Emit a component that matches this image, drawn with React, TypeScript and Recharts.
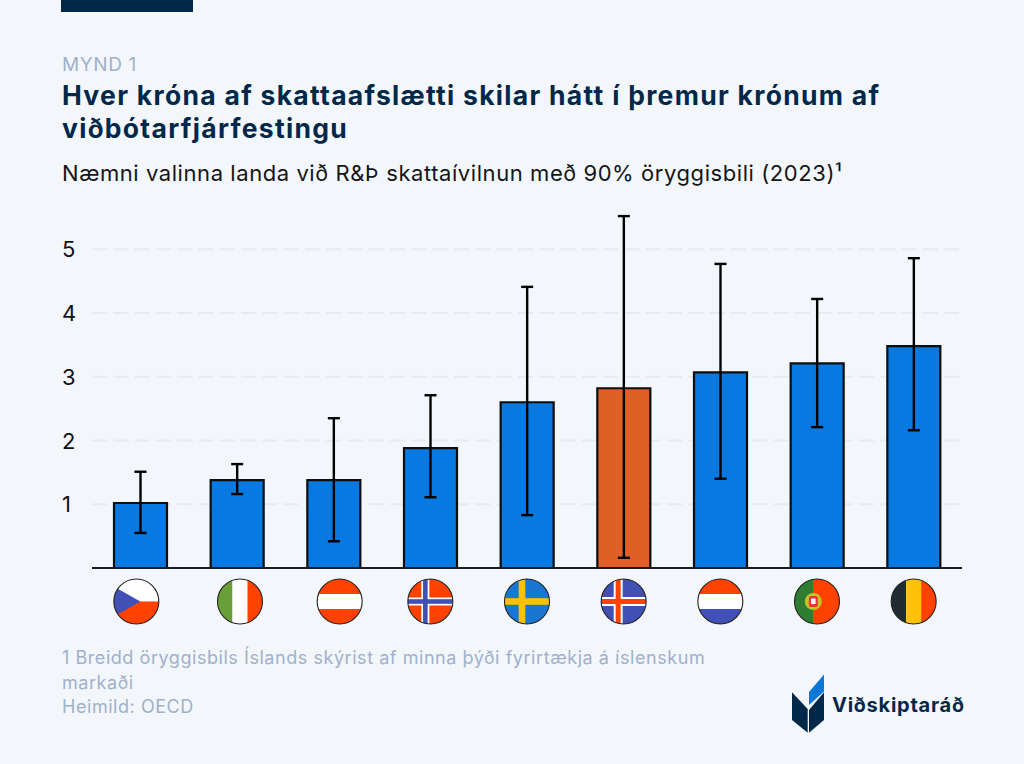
import { BarChart, Bar, Cell, CartesianGrid, ErrorBar, XAxis, YAxis } from 'recharts';

const FONT = 'Inter, "Noto Sans", sans-serif';
const NAVY = '#022849';
const MUTED = '#9fb1ca';

const countries = ['CZ', 'IT', 'AT', 'NO', 'SE', 'IS', 'NL', 'PT', 'BE'];
const values = [1.02, 1.38, 1.38, 1.88, 2.6, 2.82, 3.07, 3.21, 3.48];
const lowValues = [0.55, 1.16, 0.42, 1.11, 0.83, 0.16, 1.4, 2.21, 2.16];
const highValues = [1.51, 1.63, 2.35, 2.71, 4.41, 5.52, 4.77, 4.22, 4.86];
const yTicks = [1, 2, 3, 4, 5];
const barColors = ['#0779e0', '#0779e0', '#0779e0', '#0779e0', '#0779e0', '#e05f27', '#0779e0', '#0779e0', '#0779e0'];

const rows = countries.map((country, i) => ({
  country,
  value: values[i],
  error: [values[i] - lowValues[i], highValues[i] - values[i]],
}));

const RED = '#ff4200';
const BLUE = '#4050b5';
const R = 22.5;
// the flags in the original don't sit exactly under their bars
const flagNudge: Record<string, number> = { CZ: -4, IT: 3, AT: 6 };

function FlagArt({ code }: { code: string }) {
  const rect = (x: number, y: number, w: number, h: number, fill: string) => (
    <rect x={x} y={y} width={w} height={h} fill={fill} />
  );
  switch (code) {
    case 'CZ':
      return (
        <>
          {rect(-R, -R, 2 * R, R, '#fff')}
          {rect(-R, 0, 2 * R, R, RED)}
          <polygon points={`${-R},${-15} 4,0 ${-R},15`} fill={BLUE} />
        </>
      );
    case 'IT':
      return (
        <>
          {rect(-R, -R, 15, 2 * R, '#689f38')}
          {rect(-7.5, -R, 15, 2 * R, '#fff')}
          {rect(7.5, -R, 15, 2 * R, RED)}
        </>
      );
    case 'AT':
      return (
        <>
          {rect(-R, -R, 2 * R, 2 * R, RED)}
          {rect(-R, -7.5, 2 * R, 15, '#fff')}
        </>
      );
    case 'NO':
      return (
        <>
          {rect(-R, -R, 2 * R, 2 * R, RED)}
          {rect(-9, -R, 8, 2 * R, '#fff')}
          {rect(-R, -4, 2 * R, 8, '#fff')}
          {rect(-7.3, -R, 4.6, 2 * R, BLUE)}
          {rect(-R, -2.3, 2 * R, 4.6, BLUE)}
        </>
      );
    case 'SE':
      return (
        <>
          {rect(-R, -R, 2 * R, 2 * R, '#1976d2')}
          {rect(-8.3, -R, 6.6, 2 * R, '#ffc107')}
          {rect(-R, -3.3, 2 * R, 6.6, '#ffc107')}
        </>
      );
    case 'IS':
      return (
        <>
          {rect(-R, -R, 2 * R, 2 * R, BLUE)}
          {rect(-10, -R, 9, 2 * R, '#fff')}
          {rect(-R, -4.5, 2 * R, 9, '#fff')}
          {rect(-8, -R, 5, 2 * R, RED)}
          {rect(-R, -2.5, 2 * R, 5, RED)}
        </>
      );
    case 'NL':
      return (
        <>
          {rect(-R, -R, 2 * R, 2 * R, RED)}
          {rect(-R, -7.5, 2 * R, 15, '#fff')}
          {rect(-R, 7.5, 2 * R, 15, BLUE)}
        </>
      );
    case 'PT':
      return (
        <>
          {rect(-R, -R, 2 * R, 2 * R, RED)}
          {rect(-R, -R, 18.5, 2 * R, '#2e7d32')}
          <circle cx={-3.7} r={8.5} fill="#c6c622" />
          <rect x={-8.2} y={-5.5} width={9} height={11} rx={2} fill="#e53935" />
          <rect x={-6} y={-3} width={4.6} height={5.5} fill="#f2f4fa" />
        </>
      );
    default:
      return (
        <>
          {rect(-R, -R, 15, 2 * R, '#212b33')}
          {rect(-7.5, -R, 15, 2 * R, '#ffc107')}
          {rect(7.5, -R, 15, 2 * R, RED)}
        </>
      );
  }
}

function FlagTick({ x, y, payload }: any) {
  const id = `flag-${payload.value}`;
  const dx = flagNudge[payload.value] || 0;
  return (
    <g transform={`translate(${x + dx},${y + 33.5})`}>
      <clipPath id={id}>
        <circle r={R} />
      </clipPath>
      <g clipPath={`url(#${id})`}>
        <FlagArt code={payload.value} />
      </g>
      <circle r={R} fill="none" stroke="#222" strokeWidth={1.1} />
    </g>
  );
}

function ValueTick({ y, payload }: any) {
  return (
    <text x={62} y={y + 8} textAnchor="start" fontFamily={FONT} fontSize={22} fill="#111">
      {payload.value}
    </text>
  );
}

function Line({ top, size, height = 30, color, weight, spacing = 0, children }: any) {
  return (
    <div
      style={{
        position: 'absolute',
        left: 62,
        top,
        fontFamily: FONT,
        fontSize: size,
        lineHeight: `${height}px`,
        letterSpacing: spacing,
        color,
        fontWeight: weight || 400,
        whiteSpace: 'nowrap',
      }}
    >
      {children}
    </div>
  );
}

function Logo() {
  return (
    <svg width={1024} height={764} style={{ position: 'absolute', left: 0, top: 0, pointerEvents: 'none' }}>
      <polygon points="792,692.3 807.7,709 807.7,732.7 792,720" fill={NAVY} />
      <polygon points="809,710 824,692.3 824,720 809,732.7" fill={NAVY} />
      <polygon points="809,705 809,692 824,674.5 824,691.5" fill="#0b78d8" />
      <text x={832} y={712} fontFamily={FONT} fontSize={20} fontWeight={700} letterSpacing={0.75} fill={NAVY}>
        Viðskiptaráð
      </text>
    </svg>
  );
}

export default function App() {
  return (
    <div style={{ position: 'fixed', left: 0, top: 0, width: 1024, height: 764, background: '#f3f7fc', overflow: 'hidden' }}>
      <div style={{ position: 'absolute', left: 61, top: 0, width: 132, height: 12, background: NAVY }} />
      <Line top={55} size={19} height={20} spacing={0.6} color={MUTED}>MYND 1</Line>
      <Line top={79} size={26.5} height={32.5} spacing={1.29} color={NAVY} weight={700}>
        Hver króna af skattaafslætti skilar hátt í þremur krónum af
        <br />
        viðbótarfjárfestingu
      </Line>
      <Line top={158} size={22} spacing={0.57} color="#151515">Næmni valinna landa við R&amp;Þ skattaívilnun með 90% öryggisbili (2023)¹</Line>

      <div style={{ position: 'absolute', left: 0, top: 0 }}>
        <BarChart width={1024} height={764} data={rows} margin={{ top: 211, right: 62, bottom: 0, left: 0 }}>
          <CartesianGrid vertical={false} horizontalValues={yTicks} stroke="#e6ebf0" strokeWidth={2} strokeDasharray="15 6.3" />
          <XAxis
            dataKey="country"
            height={196}
            interval={0}
            tickLine={false}
            tickSize={0}
            tickMargin={0}
            axisLine={{ stroke: '#1c1c1c', strokeWidth: 2 }}
            tick={<FlagTick />}
          />
          <YAxis
            width={92}
            domain={[0, 5.6]}
            ticks={yTicks}
            axisLine={false}
            tickLine={false}
            tick={<ValueTick />}
          />
          <Bar dataKey="value" barSize={53} stroke="#0d0d0d" strokeWidth={2.2} isAnimationActive={false}>
            {rows.map((row, i) => (
              <Cell key={row.country} fill={barColors[i]} />
            ))}
            <ErrorBar dataKey="error" width={6} stroke="#000" strokeWidth={2.4} isAnimationActive={false} />
          </Bar>
        </BarChart>
      </div>

      <Line top={646} size={18} height={24.5} spacing={0.55} color={MUTED}>
        1 Breidd öryggisbils Íslands skýrist af minna þýði fyrirtækja á íslenskum
        <br />
        markaði
        <br />
        Heimild: OECD
      </Line>
      <Logo />
    </div>
  );
}
